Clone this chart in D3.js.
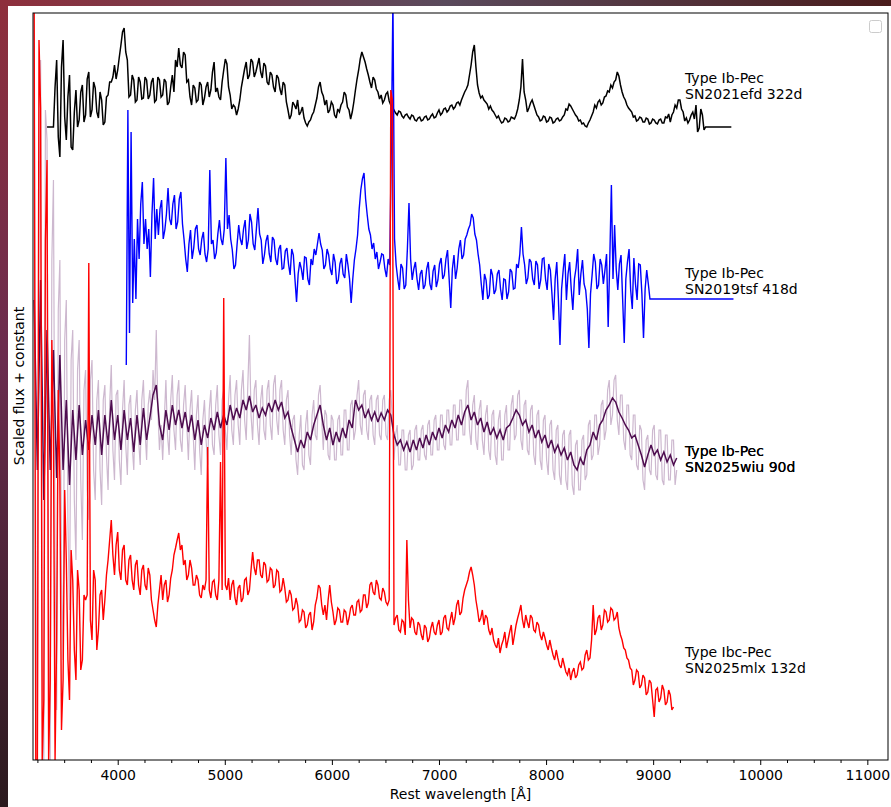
<!DOCTYPE html>
<html><head><meta charset="utf-8">
<script src="https://cdn.jsdelivr.net/npm/d3@7"></script>
<style>body{margin:0;background:#fff} svg{display:block}</style>
</head><body><svg id="c" width="891" height="807"></svg>
<script>
// ---------------- DATA ----------------
// SN2021efd 322d (Type Ib-Pec), 15 A sampling
const blackStart = 3340, blackStep = 15;
const blackFlux = [
0,0,0,0,0,40,67,-10,-30,60,87,10,-13,30,52,-20,-23,15,37,0,
7,35,42,5,12,48,55,10,17,45,39,15,9,35,27,2,5,30,32,45,
45,50,62,48,57,70,82,95,99,75,67,30,32,52,47,25,27,50,45,28,
29,50,47,28,32,45,49,25,27,50,47,30,32,48,45,22,25,40,52,35,
67,60,79,62,59,75,72,45,47,30,22,42,39,25,27,45,42,22,29,40,
45,30,37,55,65,35,39,30,27,45,57,68,63,40,32,18,22,20,12,18,
27,40,49,58,65,48,52,68,65,50,55,62,69,55,49,64,61,45,42,55,
52,40,35,52,49,38,32,45,42,25,17,8,12,25,22,18,27,12,15,20,
9,4,1,5,7,12,15,22,29,40,45,35,31,22,27,14,17,25,22,12,
9,18,15,22,25,35,32,20,17,8,15,25,37,48,57,68,75,70,65,58,
52,45,39,50,47,38,35,28,32,24,27,33,35,26,22,20,17,14,12,16,
15,11,9,12,13,10,8,12,11,7,6,9,10,6,7,10,11,7,8,11,
13,9,10,14,17,12,14,18,19,15,17,21,22,18,20,24,25,22,27,31,
35,38,42,52,62,75,82,60,42,34,29,31,27,25,23,18,21,17,15,12,
9,11,7,4,5,9,8,5,6,10,9,8,12,18,27,40,68,35,27,15,
19,24,27,22,17,12,10,6,7,11,10,5,6,10,9,4,5,8,9,6,
7,10,12,18,17,23,21,18,15,12,10,6,7,3,4,1,0,4,7,11,
15,22,19,25,27,22,24,30,31,36,35,42,39,45,47,55,51,42,35,30,
27,22,19,17,15,10,11,6,7,10,9,5,5,9,8,3,4,8,7,4,
3,7,8,4,4,10,9,13,5,12,15,22,19,27,27,18,15,6,9,4,
7,12,15,8,22,-5,-1,18,12,-3,0,0,0,0,0,0,0,0,0,0,
0,0,0,0,0,0,0];
// SN2019tsf 418d (Type Ib-Pec), 15 A sampling
const blueStart = 4080, blueStep = 15;
const blueFlux = [
-66,189,-34,167,-4,60,0,80,40,95,117,55,80,50,70,22,85,121,60,90,
64,90,99,60,69,85,111,80,74,95,104,70,77,100,107,75,59,40,27,55,
69,40,51,70,74,50,44,60,67,45,37,50,129,55,59,40,46,65,79,60,
54,70,141,70,84,60,49,30,34,55,74,60,54,70,79,50,59,85,77,55,
49,70,91,65,59,35,44,58,64,45,37,62,59,40,34,50,54,30,31,48,
51,35,24,50,44,20,-3,25,37,30,19,42,41,20,14,40,34,50,44,55,
66,55,49,30,34,50,44,30,24,45,37,15,19,35,41,25,21,45,34,20,
-4,20,39,50,64,90,109,120,126,100,84,70,64,50,56,40,47,30,37,45,
44,30,22,40,34,150,300,60,34,20,9,35,31,10,14,50,96,40,19,30,
37,20,9,25,29,10,14,30,37,15,9,28,34,12,19,35,41,20,24,40,
49,20,-9,30,44,20,31,50,59,40,44,60,64,70,74,85,81,65,59,45,
34,15,-1,25,19,0,4,30,24,5,9,25,29,10,-1,20,19,0,7,30,
27,10,11,35,31,45,72,45,34,15,21,40,37,20,14,38,34,10,19,40,
41,20,9,35,29,5,-21,20,37,0,-46,10,29,45,-1,25,37,10,-11,20,
31,50,4,25,39,15,9,-10,-49,5,24,45,37,10,14,40,34,15,29,45,
-28,40,114,20,74,30,9,35,44,0,-44,20,37,50,9,-10,41,15,-1,35,
34,5,-39,10,29,15,0,0,0,0,0,0,0,0,0,0,0,0,0,0,
0,0,0,0,0,0,0,0,0,0,0,0,0,0,0,0,0,0,0,0,
0,0,0,0,0,0,0,0,0,0,0,0,0,0,0,0,0,0,0];
// SN2025wiu 90d (Type Ib-Pec): binned spectrum (30 A) and raw spectrum (15 A)
const purpleStart = 3220, purpleStep = 30;
const purpleFlux = [
160,-10,180,-40,130,-10,110,-18,105,-10,
60,-25,50,0,55,5,40,10,45,15,
50,5,45,15,60,20,45,10,50,20,
42,8,45,15,52,20,42,65,75,35,
20,50,30,55,35,50,32,48,28,45,
20,40,15,35,22,42,30,48,32,45,
35,55,40,52,42,60,50,64,48,55,
42,52,45,57,48,60,50,58,42,48,
32,20,8,20,12,28,20,35,45,55,
35,20,32,15,28,18,32,22,40,32,
60,50,55,42,50,40,48,38,47,40,
50,45,25,15,20,10,18,8,20,10,
22,12,25,15,28,20,32,22,35,28,
40,32,45,35,48,55,40,48,35,42,
28,38,25,32,22,30,20,32,35,42,
50,45,35,40,28,35,22,30,18,25,
12,20,8,15,5,12,0,8,-5,-10,
2,-5,10,15,28,20,35,40,50,55,
62,58,48,42,35,30,22,25,15,5,
-7,5,15,5,10,0,8,-2,5,-5,
2];
const purpleRawStart = 3220, purpleRawStep = 15;
const purpleRawFlux = [
430,-100,-300,250,400,-200,-300,350,320,-150,-300,200,280,-100,-250,150,200,-120,-200,120,
160,-60,-150,100,130,-40,-100,90,120,-20,-80,70,90,-30,-60,80,100,-10,-40,60,
80,-10,-45,60,75,5,-30,55,95,10,-20,65,70,0,-25,50,80,15,-15,55,
65,15,-10,50,70,20,-5,60,80,30,0,55,70,40,90,60,130,50,10,35,
0,40,80,25,5,60,85,30,10,65,80,20,8,55,75,35,0,50,70,25,
-10,45,65,10,-15,40,60,20,-5,50,70,15,5,55,75,25,5,60,70,30,
10,60,85,30,15,65,80,35,15,70,90,40,20,75,125,45,20,70,80,35,
15,60,75,30,20,70,80,35,20,75,85,40,25,70,80,30,15,60,70,25,
5,40,45,0,-15,25,45,-5,-10,35,50,5,-5,45,60,25,20,65,75,40,
10,50,45,5,0,45,40,0,0,40,45,5,5,50,50,10,10,55,60,20,
30,65,80,35,25,65,70,30,20,60,65,25,15,60,65,25,20,60,65,25,
20,60,70,40,0,25,35,-5,-5,30,30,-10,-10,25,30,-10,-5,30,35,0,
0,30,35,5,0,35,40,5,5,40,45,10,10,45,45,15,10,50,50,15,
15,55,55,20,20,60,60,25,25,70,80,30,15,55,65,20,10,50,60,20,
5,45,55,10,0,45,50,5,-5,40,50,0,0,45,55,10,10,55,65,20,
25,65,70,20,10,55,60,10,5,50,55,5,-5,45,50,0,-10,40,45,0,
-15,35,40,-10,-20,30,35,-15,-25,25,30,-20,-30,25,30,-25,-35,15,20,-30,
-30,20,25,-20,-15,35,40,0,5,45,45,5,15,55,60,20,30,70,80,35,
45,80,85,40,25,65,65,20,10,55,55,5,0,45,45,-5,-10,35,30,-20,
-30,20,25,-10,-15,30,35,-15,-20,30,30,-20,-25,25,25,-20,-20,20,20,-25,
-10];
// SN2025mlx 132d (Type Ibc-Pec), 15 A sampling
const redStart = 3220, redStep = 15;
const redFlux = [
627,-120,-120,600,532,-120,-60,400,480,-120,-40,300,203,-120,0,250,160,-90,-40,150,
80,-20,-60,90,60,-10,-40,70,50,-30,-20,45,40,45,377,20,0,70,60,-10,
10,45,50,20,40,65,80,100,120,85,65,95,108,70,60,90,95,60,55,80,
85,60,50,75,80,55,45,70,75,55,50,72,65,40,30,20,13,35,50,65,
40,55,60,38,45,62,70,85,92,100,107,90,95,75,80,60,65,80,72,55,
55,65,60,45,42,55,50,60,193,50,42,58,60,45,40,60,178,50,342,55,
50,62,40,55,60,42,35,52,55,38,42,60,62,45,50,70,88,72,65,80,
80,65,62,78,75,58,60,72,70,52,55,70,68,48,50,62,52,38,40,50,
45,30,32,42,35,18,20,30,28,12,15,25,28,10,18,35,42,55,52,35,
25,35,20,40,55,38,28,15,20,32,30,18,18,30,28,15,22,32,35,25,
25,38,40,28,30,45,45,32,37,55,58,48,45,60,55,42,40,52,48,38,
35,40,550,540,15,22,25,10,8,20,18,5,100,40,12,22,20,8,5,18,
15,5,0,15,12,-2,2,12,18,8,5,15,20,5,8,22,25,12,10,20,
28,15,22,35,40,25,28,42,50,55,60,68,73,65,55,40,30,18,22,30,
15,25,22,10,5,12,0,-5,-8,2,-13,-5,0,8,-8,0,8,15,-5,5,
15,22,28,35,20,12,25,18,12,25,22,10,8,18,15,5,0,8,2,-5,
-10,0,-8,-15,-20,-10,-18,-25,-28,-18,-25,-32,-35,-28,-40,-32,-28,-38,-35,-25,
-22,-30,-28,-15,-10,-20,-18,0,35,5,10,22,25,10,15,30,28,18,20,32,
30,20,22,28,12,5,0,-8,-10,-18,-20,-28,-30,-45,-40,-30,-32,-48,-45,-35,
-38,-55,-52,-40,-43,-60,-77,-50,-48,-62,-58,-45,-50,-65,-62,-50,-55,-70,-67];
const FLUX_SCALE = 100;
// constants added to each scaled spectrum
const offsets = {black: 6.33, blue: 4.61, purple: 3.00, red: 1.20};
const labels = [
  {key:"black", l1:"Type Ib-Pec", l2:"SN2021efd 322d"},
  {key:"blue", l1:"Type Ib-Pec", l2:"SN2019tsf 418d"},
  {key:"purple", l1:"Type Ib-Pec", l2:"SN2025wiu 90d"},
  {key:"red", l1:"Type Ibc-Pec", l2:"SN2025mlx 132d"}
];
const majorTicks = [4000,5000,6000,7000,8000,9000,10000,11000];
const minorTicks = [3250,3500,3750,4250,4500,4750,5250,5500,5750,6250,6500,6750,7250,7500,7750,8250,8500,8750,9250,9500,9750,10250,10500,10750];

// ---------------- CHART ----------------
const svg = d3.select("#c");
const defs = svg.append("defs");
const gl = defs.append("linearGradient").attr("id","gl").attr("x1",0).attr("y1",0).attr("x2",0).attr("y2",1);
gl.append("stop").attr("offset","0").attr("stop-color","#8e2f3c");
gl.append("stop").attr("offset","0.45").attr("stop-color","#6a2c4e");
gl.append("stop").attr("offset","1").attr("stop-color","#2b1a1e");
const gt = defs.append("linearGradient").attr("id","gt").attr("x1",0).attr("y1",0).attr("x2",1).attr("y2",0);
gt.append("stop").attr("offset","0").attr("stop-color","#8e2f3c");
gt.append("stop").attr("offset","0.5").attr("stop-color","#5a4a5c");
gt.append("stop").attr("offset","1").attr("stop-color","#4a1c1c");
svg.append("rect").attr("x",0).attr("y",0).attr("width",891).attr("height",6).attr("fill","url(#gt)");
svg.append("rect").attr("x",0).attr("y",0).attr("width",8).attr("height",807).attr("fill","url(#gl)");

const L=33,R=888,T=13,B=760;
const x = d3.scaleLinear().domain([3209, 11193]).range([L, R]);
const y = d3.scaleLinear().domain([0, 7.47]).range([B, T]);

defs.append("clipPath").attr("id","clip").append("rect").attr("x",L).attr("y",T).attr("width",R-L).attr("height",B-T);

function series(start, step, flux, off){
  return flux.map((f,i)=>[start + step*i, off + f/FLUX_SCALE]);
}
const line = d3.line().x(d=>x(d[0])).y(d=>y(d[1]));
const plot = svg.append("g").attr("clip-path","url(#clip)");
const layers = [
  {d: series(purpleRawStart, purpleRawStep, purpleRawFlux, offsets.purple), c:"#cdb8cf", w:1.2},
  {d: series(purpleStart, purpleStep, purpleFlux, offsets.purple), c:"#4e0c4f", w:1.5},
  {d: series(blackStart, blackStep, blackFlux, offsets.black), c:"#000000", w:1.5},
  {d: series(blueStart, blueStep, blueFlux, offsets.blue), c:"#0000ff", w:1.4},
  {d: series(redStart, redStep, redFlux, offsets.red), c:"#ff0000", w:1.4}
];
layers.forEach(s=>{
  plot.append("path").attr("d", line(s.d)).attr("fill","none")
    .attr("stroke", s.c).attr("stroke-width", s.w).attr("stroke-linejoin","miter").attr("stroke-miterlimit",3);
});

// frame
svg.append("rect").attr("x",L).attr("y",T).attr("width",R-L).attr("height",B-T)
  .attr("fill","none").attr("stroke","#000").attr("stroke-width",1);

// axes
const font = "DejaVu Sans, sans-serif";
const ax = svg.append("g").attr("transform",`translate(0,${B})`)
  .call(d3.axisBottom(x).tickValues(majorTicks).tickSize(5).tickPadding(5).tickFormat(d3.format("d")));
ax.select(".domain").remove();
ax.selectAll("text").attr("font-family",font).attr("font-size",14).attr("fill","#000");
const axm = svg.append("g").attr("transform",`translate(0,${B})`)
  .call(d3.axisBottom(x).tickValues(minorTicks).tickSize(3).tickFormat(""));
axm.select(".domain").remove();

svg.append("text").attr("x",(L+R)/2).attr("y",799).attr("text-anchor","middle")
  .attr("font-family",font).attr("font-size",14).text("Rest wavelength [Å]");
svg.append("text").attr("transform","translate(24,386) rotate(-90)").attr("text-anchor","middle")
  .attr("font-family",font).attr("font-size",14).text("Scaled flux + constant");

// spectrum labels
const labelY = {black: 83, blue: 278, purple: 456, red: 657};
labels.forEach(lb=>{
  const reps = lb.key==="purple" ? 2 : 1;
  for(let k=0;k<reps;k++){
    const t = svg.append("text").attr("font-family",font).attr("font-size",14).attr("fill","#000");
    t.append("tspan").attr("x",685).attr("y",labelY[lb.key]).text(lb.l1);
    t.append("tspan").attr("x",685).attr("y",labelY[lb.key]+16).text(lb.l2);
  }
});

// empty legend box
svg.append("rect").attr("x",869.5).attr("y",20.5).attr("width",12).attr("height",12).attr("rx",2)
  .attr("fill","#fff").attr("stroke","#cccccc").attr("stroke-width",1);
</script></body></html>
